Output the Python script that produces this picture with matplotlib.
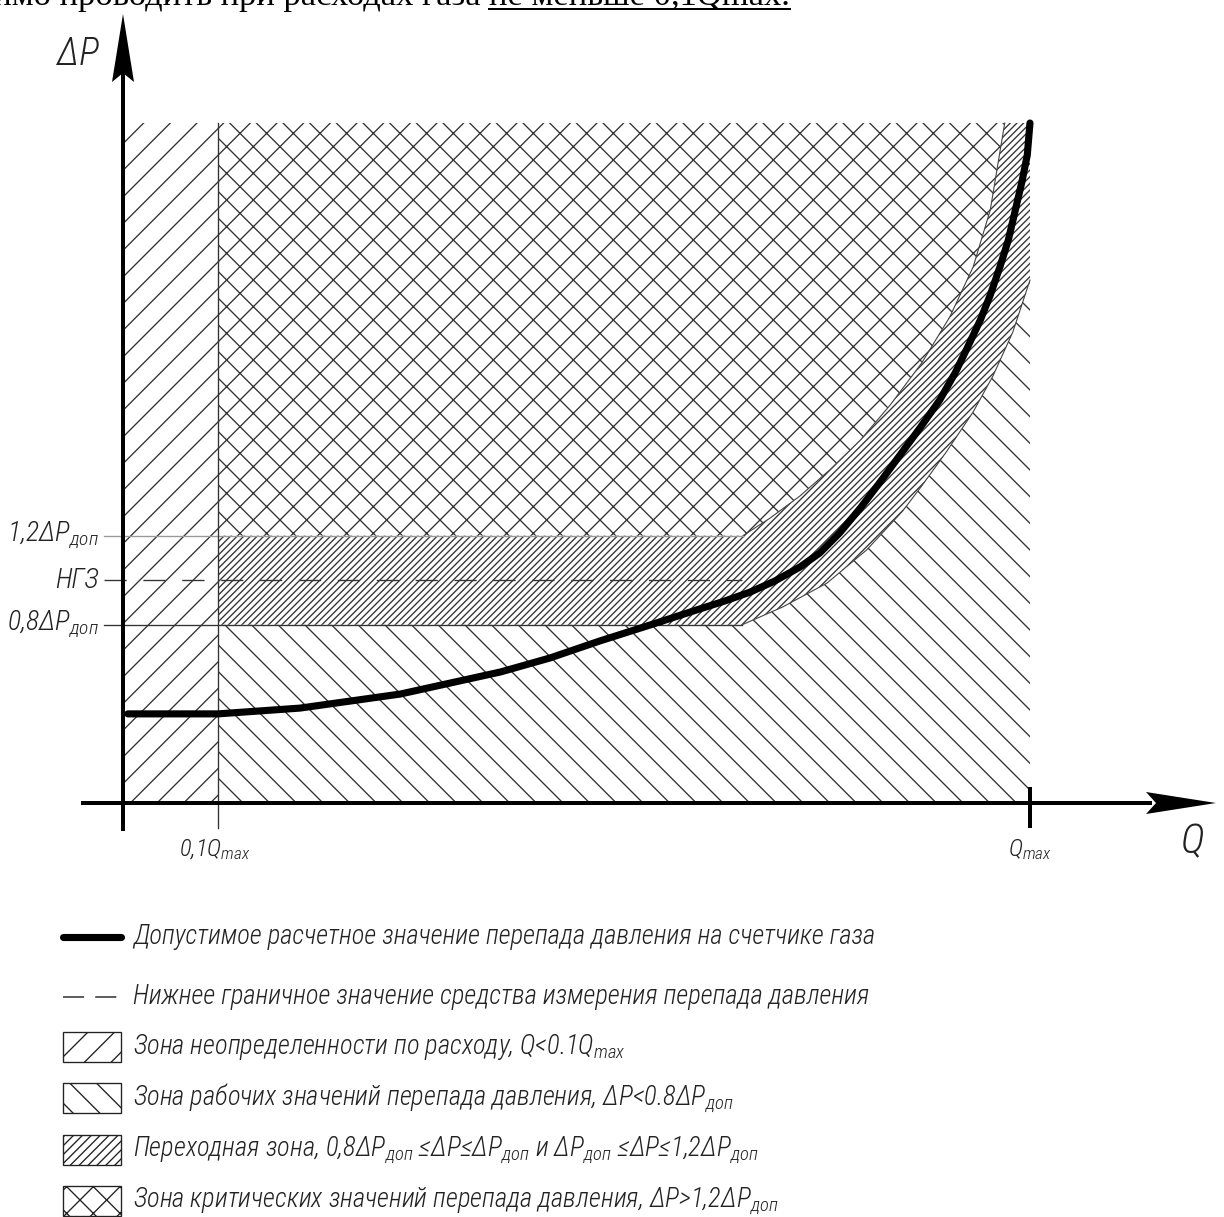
import matplotlib
matplotlib.use("Agg")
import matplotlib.pyplot as plt
from matplotlib import font_manager
from matplotlib.patches import Polygon, Rectangle

# --- данные (Q в долях Qmax, ΔP в долях ΔPдоп) ---
q_curve = [0.000, 0.100, 0.191, 0.302, 0.413, 0.468, 0.523, 0.579, 0.634, 0.662,
           0.690, 0.717, 0.745, 0.767, 0.789, 0.812, 0.834, 0.856, 0.878, 0.900,
           0.917, 0.931, 0.945, 0.956, 0.967, 0.976, 0.983, 0.991, 0.997, 1.000]
dp_curve = [0.400, 0.400, 0.426, 0.489, 0.588, 0.651, 0.727, 0.799, 0.871, 0.907,
            0.947, 0.996, 1.059, 1.122, 1.212, 1.324, 1.441, 1.562, 1.683, 1.809,
            1.930, 2.047, 2.168, 2.280, 2.410, 2.527, 2.648, 2.787, 2.908, 3.052]

# верхняя граница переходной зоны (1,2ΔPдоп)
q_upper = [0.682, 0.712, 0.745, 0.778, 0.812, 0.845, 0.880, 0.911, 0.937, 0.956, 0.972]
dp_upper = [1.20, 1.279, 1.378, 1.495, 1.629, 1.786, 1.975, 2.181, 2.406, 2.662, 3.052]

# нижняя граница переходной зоны (0,8ΔPдоп)
q_lower = [0.681, 0.726, 0.775, 0.819, 0.859, 0.880, 0.908, 0.937, 0.959, 0.981, 1.0]
dp_lower = [0.80, 0.880, 0.987, 1.136, 1.311, 1.423, 1.580, 1.755, 1.917, 2.114, 2.347]

dp_top = 3.052
q_min = 0.1
q_max = 1.0
levels = [1.2, 1.0, 0.8]
level_labels = [r"1,2ΔP$_{доп}$", "НГЗ", r"0,8ΔP$_{доп}$"]

legend_labels = [
    "Допустимое расчетное значение перепада давления на счетчике газа",
    "Нижнее граничное значение средства измерения перепада давления",
    r"Зона неопределенности по расходу, Q<0.1Q$_{max}$",
    r"Зона рабочих значений перепада давления, ΔP<0.8ΔP$_{доп}$",
    r"Переходная зона, 0,8ΔP$_{доп}$ ≤ΔP≤ΔP$_{доп}$ и ΔP$_{доп}$ ≤ΔP≤1,2ΔP$_{доп}$",
    r"Зона критических значений перепада давления, ΔP>1,2ΔP$_{доп}$",
]

# --- шрифты ---
names = {f.name for f in font_manager.fontManager.ttflist}
FONT = "Liberation Sans"
for cand in ["Roboto Condensed", "Fira Sans Condensed", "IBM Plex Sans Condensed",
             "Open Sans Condensed"]:
    if cand in names:
        FONT = cand
        break
plt.rcParams["font.family"] = [FONT, "DejaVu Sans"]
plt.rcParams["font.style"] = "italic"
plt.rcParams["font.weight"] = "light"
plt.rcParams["mathtext.fontset"] = "custom"
plt.rcParams["mathtext.it"] = FONT + ":italic:light"
plt.rcParams["mathtext.rm"] = FONT + ":italic:light"
plt.rcParams["mathtext.default"] = "it"
plt.rcParams["hatch.linewidth"] = 0.6
plt.rcParams["lines.scale_dashes"] = False

W, H, DPI = 1224, 1217, 160
TXT = "#222222"
HATCH = "#333333"


def px(x, y):
    # пиксели картинки -> координаты графика
    return 0.1 + (x - 218) / 902.2, (803 - y) / 222.8


fig = plt.figure(figsize=(W / DPI, H / DPI), dpi=DPI)
ax = fig.add_axes([0, 0, 1, 1])
ax.set_axis_off()
ax.set_xlim(px(0, 0)[0], px(W, 0)[0])
ax.set_ylim(px(0, H)[1], px(0, 0)[1])

q_axis = px(123, 0)[0]

# зоны
hk = dict(facecolor="none", edgecolor=HATCH, linewidth=0)
ax.fill([q_axis, q_min, q_min, q_axis], [0, 0, dp_top, dp_top], hatch="//", **hk)

work_q = [q_min, q_max] + q_lower[::-1] + [q_min]
work_dp = [0, 0] + dp_lower[::-1] + [levels[2]]
ax.fill(work_q, work_dp, hatch="\\\\", **hk)

trans_q = [q_min] + q_lower + [q_max] + q_upper[::-1] + [q_min]
trans_dp = [levels[2]] + dp_lower + [dp_top] + dp_upper[::-1] + [levels[0]]
ax.fill(trans_q, trans_dp, hatch="////////", **hk)

crit_q = [q_min] + q_upper + [q_min]
crit_dp = [levels[0]] + dp_upper + [dp_top]
ax.fill(crit_q, crit_dp, hatch="xx", **hk)

ax.plot(q_lower, dp_lower, color="#444444", lw=0.5)
ax.plot(q_upper, dp_upper, color="#444444", lw=0.5)

# уровни
x_start = px(104, 0)[0]
ax.plot([x_start, q_upper[0]], [levels[0], levels[0]], color="#999999", lw=0.6)
ax.plot([x_start, q_lower[0]], [levels[1], levels[1]], color="#333333", lw=0.6,
        linestyle=(0, (10, 7.5)))
ax.plot([x_start, q_lower[0]], [levels[2], levels[2]], color="#333333", lw=0.6)
for lv, lab in zip(levels, level_labels):
    ax.text(px(99, 0)[0], lv, lab, ha="right", va="center", fontsize=12.5, color=TXT)

# линия 0,1Qmax
ax.plot([q_min, q_min], [px(0, 828)[1], dp_top], color="#333333", lw=0.6)

# кривая
ax.plot(q_curve, dp_curve, color="black", lw=3.2, solid_capstyle="round",
        solid_joinstyle="round")

# оси
ax.plot([q_axis, q_axis], [px(0, 829)[1], px(0, 74)[1]], color="black", lw=1.8)
ax.plot([px(83, 0)[0], px(1150, 0)[0]], [0, 0], color="black", lw=1.8)
ax.add_patch(Polygon([px(123, 14), px(134, 82), px(123, 73), px(112, 82)],
                     closed=True, color="black", lw=0))
ax.add_patch(Polygon([px(1216, 803), px(1146, 792), px(1156, 803), px(1146, 814)],
                     closed=True, color="black", lw=0))
ax.plot([q_max, q_max], [px(0, 789)[1], px(0, 826)[1]], color="black", lw=1.8)

ax.text(*px(78, 55), "ΔP", ha="center", va="center", fontsize=17, color=TXT)
ax.text(*px(1193, 842), "Q", ha="center", va="center", fontsize=18.5, color=TXT)
ax.text(px(215, 0)[0], px(0, 850)[1], r"0,1Q$_{max}$", ha="center", va="center",
        fontsize=11, color=TXT)
ax.text(q_max, px(0, 850)[1], r"Q$_{max}$", ha="center", va="center",
        fontsize=11, color=TXT)

# легенда
rows = [937, 997, 1047, 1098, 1150, 1201]
ax.plot([px(63, 0)[0], px(121, 0)[0]], [px(0, rows[0])[1]] * 2, color="black",
        lw=3.2, solid_capstyle="round")
ax.plot([px(63, 0)[0], px(119, 0)[0]], [px(0, rows[1])[1]] * 2, color="#333333",
        lw=0.7, linestyle=(0, (9.5, 5)))
for r, h in zip(rows[2:], ["//", "\\\\", "//////", "xx"]):
    xa, ya = px(63, r + 15)
    xb, yb = px(121, r - 15)
    ax.add_patch(Rectangle((xa, ya), xb - xa, yb - ya, facecolor="none",
                           edgecolor="#222222", lw=0.6, hatch=h))
for r, lab in zip(rows, legend_labels):
    ax.text(*px(133, r), lab, ha="left", va="center", fontsize=12, color=TXT)

# обрезанная строка текста сверху
t2 = ax.text(*px(790, 5), "не меньше 0,1Qmax.", family="Liberation Serif",
             style="normal", weight="normal", fontsize=15.5, ha="right",
             va="baseline", color="black")
fig.canvas.draw()
bb = t2.get_window_extent()
xl = bb.x0
ax.text(*px(xl - 8, 5), "необходимо проводить при расходах газа",
        family="Liberation Serif", style="normal", weight="normal", fontsize=15.5,
        ha="right", va="baseline", color="black")
ax.plot([px(xl, 0)[0], px(bb.x1, 0)[0]], [px(0, 9)[1]] * 2, color="black", lw=0.9)

fig.savefig("out.png", dpi=DPI)
